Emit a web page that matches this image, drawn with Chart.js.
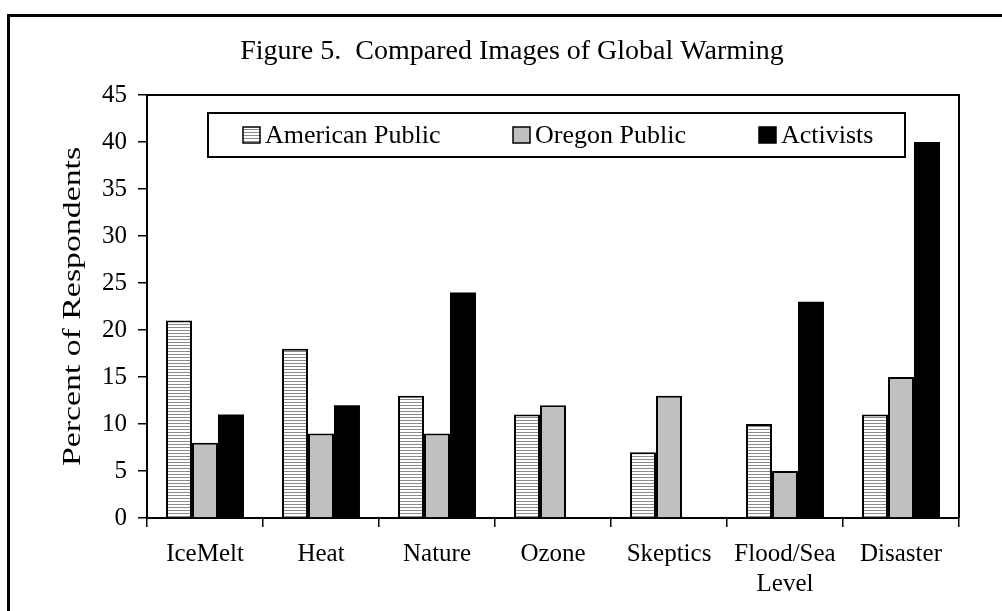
<!DOCTYPE html>
<html>
<head>
<meta charset="utf-8">
<script src="https://cdn.jsdelivr.net/npm/chart.js@4/dist/chart.umd.min.js"></script>
<style>
  html, body { margin: 0; padding: 0; background: #fff; }
  canvas { display: block; }
</style>
</head>
<body>
<canvas id="warmingChart" width="1002" height="611"></canvas>
<script>
const categories = ['IceMelt', 'Heat', 'Nature', 'Ozone', 'Skeptics', ['Flood/Sea', 'Level'], 'Disaster'];
const seriesNames = ['American Public', 'Oregon Public', 'Activists'];
const americanPublic = [21, 18, 13, 11, 7, 10, 11];
const oregonPublic = [8, 9, 9, 12, 13, 5, 15];
const activists = [11, 12, 24, 0, 0, 23, 40];
const yTitle = 'Percent of Respondents';
const yMax = 45;
const yStep = 5;

const serif = "'Times New Roman', 'Liberation Serif', serif";

// horizontal stripe fill like the old Excel pattern
function stripePattern() {
    const c = document.createElement('canvas');
    c.width = 4;
    c.height = 3;
    const g = c.getContext('2d');
    g.fillStyle = '#ffffff';
    g.fillRect(0, 0, 4, 3);
    g.fillStyle = '#8a8a8a';
    g.fillRect(0, 0, 4, 1);
    return g.createPattern(c, 'repeat');
}

const ctx = document.getElementById('warmingChart').getContext('2d');
const fills = [stripePattern(), '#c0c0c0', '#000000'];

const frame = {
    id: 'frame',
    beforeDraw(chart) {
        const c = chart.ctx;
        c.save();
        c.fillStyle = '#fff';
        c.fillRect(0, 0, chart.width, chart.height);
        c.strokeStyle = '#000';
        c.lineWidth = 3;
        c.beginPath();
        c.moveTo(8.5, chart.height + 5);
        c.lineTo(8.5, 15.5);
        c.lineTo(chart.width + 5, 15.5);
        c.stroke();
        c.restore();
    },
    afterDraw(chart) {
        const {left, right, top, bottom} = chart.chartArea;
        const c = chart.ctx;
        c.save();
        c.strokeStyle = '#000';
        c.lineWidth = 2;
        c.beginPath();
        c.moveTo(left, top);
        c.lineTo(right, top);
        c.lineTo(right, bottom);
        c.stroke();

        // y axis title, stretched along its length as in the source image
        c.save();
        c.translate(73, (top + bottom) / 2);
        c.rotate(-Math.PI / 2);
        c.scale(1.3, 1);
        c.font = '26px ' + serif;
        c.fillStyle = '#000';
        c.textAlign = 'center';
        c.textBaseline = 'middle';
        c.fillText(yTitle, 0, 0);
        c.restore();

        // boxed legend inside the plot
        const box = {x: 208, y: 113, w: 697, h: 44};
        c.fillStyle = '#fff';
        c.fillRect(box.x, box.y, box.w, box.h);
        c.strokeRect(box.x, box.y, box.w, box.h);
        const itemX = [243, 513, 759];
        c.font = '26px ' + serif;
        c.textBaseline = 'middle';
        chart.data.datasets.forEach((ds, i) => {
            const sx = itemX[i];
            c.fillStyle = ds.backgroundColor;
            c.fillRect(sx, 127, 17, 16);
            c.lineWidth = 1.5;
            c.strokeRect(sx, 127, 17, 16);
            c.fillStyle = '#000';
            c.fillText(ds.label, sx + 22, 136);
        });
        c.restore();
    }
};

new Chart(ctx, {
    type: 'bar',
    data: {
        labels: categories,
        datasets: [
            { label: seriesNames[0], data: americanPublic, backgroundColor: fills[0], borderColor: '#000', borderWidth: 2 },
            { label: seriesNames[1], data: oregonPublic, backgroundColor: fills[1], borderColor: '#000', borderWidth: 2 },
            { label: seriesNames[2], data: activists, backgroundColor: fills[2], borderColor: '#000', borderWidth: 0 }
        ]
    },
    options: {
        responsive: false,
        animation: false,
        layout: { padding: { left: 22, right: 0, top: 0, bottom: 0 } },
        datasets: {
            bar: { categoryPercentage: 0.672, barPercentage: 1.0, borderSkipped: 'bottom' }
        },
        plugins: {
            legend: { display: false },
            tooltip: { enabled: false },
            title: {
                display: true,
                text: 'Figure 5.  Compared Images of Global Warming',
                color: '#000',
                font: { family: serif, size: 28, weight: 'normal', lineHeight: 1.2 },
                padding: { top: 35, bottom: 26.4 }
            }
        },
        scales: {
            x: {
                grid: { drawOnChartArea: false, offset: true, tickLength: 9, color: '#000', lineWidth: 1.5 },
                border: { color: '#000', width: 2 },
                ticks: { color: '#000', font: { family: serif, size: 25 }, padding: 12, maxRotation: 0, autoSkip: false },
                afterFit(scale) { scale.height = 93; }
            },
            y: {
                min: 0,
                max: yMax,
                grid: { drawOnChartArea: false, tickLength: 9, color: '#000', lineWidth: 1.5 },
                border: { color: '#000', width: 2 },
                ticks: { stepSize: yStep, color: '#000', font: { family: serif, size: 25 }, padding: 11 },
                afterFit(scale) { scale.width = 125; }
            },
            yRight: {
                position: 'right',
                display: true,
                grid: { display: false },
                border: { display: false },
                ticks: { display: false },
                afterFit(scale) { scale.width = 43; }
            }
        }
    },
    plugins: [frame]
});
</script>
</body>
</html>
